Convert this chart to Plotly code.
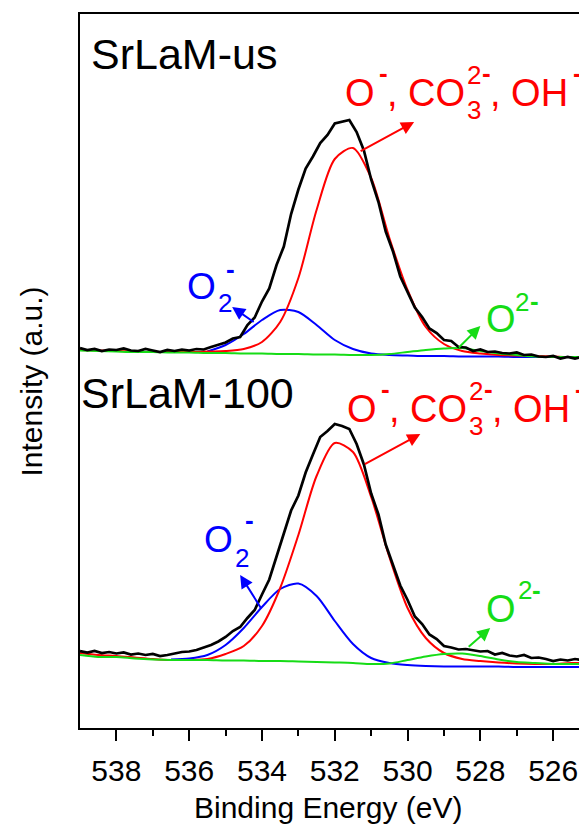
import plotly.graph_objects as go

# ---------------- data ----------------
energy_raw = [539.0, 538.8, 538.6, 538.4, 538.2, 538.0, 537.8, 537.6, 537.4, 537.2,
              537.0, 536.8, 536.6, 536.4, 536.2, 536.0, 535.8, 535.6, 535.4, 535.2,
              535.0, 534.8, 534.6, 534.4, 534.2, 534.0, 533.8, 533.6, 533.4, 533.2,
              533.0, 532.8, 532.6, 532.4, 532.2, 532.0, 531.8, 531.6, 531.4, 531.2,
              531.0, 530.8, 530.6, 530.4, 530.2, 530.0, 529.8, 529.6, 529.4, 529.2,
              529.0, 528.8, 528.6, 528.4, 528.2, 528.0, 527.8, 527.6, 527.4, 527.2,
              527.0, 526.8, 526.6, 526.4, 526.2, 526.0, 525.8, 525.6, 525.4, 525.2]

energy_fit = [539.0, 538.5, 538.0, 537.5, 537.0, 536.5, 536.0, 535.5, 535.0, 534.5,
              534.0, 533.5, 533.0, 532.5, 532.0, 531.5, 531.0, 530.5, 530.0, 529.5,
              529.0, 528.5, 528.0, 527.5, 527.0, 526.5, 526.0, 525.5, 525.0]

# SrLaM-us (upper spectrum)
us_raw = [380, 378, 379, 377, 378.5, 378, 379.5, 377.5, 377, 379,
          377.5, 376, 378, 377, 378.5, 377.5, 379, 378.5, 381, 383,
          385.5, 389.5, 391, 403, 410.5, 426.5, 439.5, 463, 481.5, 514,
          538.5, 559.5, 571.5, 585, 593, 604.5, 606, 608, 596, 577.5,
          548.5, 526, 496.5, 476.5, 451.5, 436, 420.5, 411, 399.5, 395,
          388, 387, 381, 380.5, 377, 378.5, 376, 376.5, 375, 374.5,
          375.5, 373, 373.5, 371.5, 371, 372, 369.5, 371, 369.5, 371]
us_red = [378, 377.5, 377, 376.5, 376, 376, 376, 376.5, 377, 379,
          386, 406, 450, 518, 569, 580, 550, 490, 438, 401,
          384, 377, 374.5, 373, 372.5, 372, 371.5, 371, 371]
us_blue = [None, None, None, None, None, None, None, 376.5, 383, 394,
           408, 418, 416, 403, 388, 379, 374.5, 373, 372.5, 372,
           372, 371.5, 371.5, 371.5, 371, 371, 371, 371, 371]
us_green = [377.5, 377, 376.5, 376, 376, 375.5, 375.5, 375, 375, 374.5,
            374.5, 374, 374, 373.5, 373.5, 373, 373, 374, 376, 378,
            379.5, 380, 377, 374.5, 373, 371.5, 371, 371, 371]

# SrLaM-100 (lower spectrum)
b_raw = [77, 75.5, 77, 75, 76, 74.5, 75.5, 73.5, 74.5, 73,
         74, 72, 73, 74.5, 76, 76.5, 78, 80.5, 83, 86.5,
         91, 97, 101, 110, 118, 133.5, 148.5, 171.5, 193.5, 217.5,
         232.5, 255.5, 273.5, 291, 297, 304, 302, 299, 284, 263.5,
         234.5, 213.5, 183.5, 163, 142.5, 128, 111.5, 104, 93.5, 89,
         82, 80.5, 78.5, 79, 77.5, 76.5, 77, 73.5, 75, 72.5,
         71.5, 73, 70, 70.5, 69, 67, 68.5, 67.5, 69, 68]
b_red = [75, 73, 72, 70.5, 69, 68, 68, 69, 74, 82,
         102, 140, 193, 252, 285, 276, 231, 171, 120, 90,
         75, 69, 67, 65.5, 64.5, 64, 64, 65, 65]
b_blue = [None, None, None, None, None, 68.5, 69.5, 73, 83, 100,
          121, 139, 144.5, 132, 107, 84, 70, 65, 63, 62,
          61.5, 61.5, 61.5, 61.5, 61, 61, 61, 61, 61]
b_green = [73, 71, 71, 69.5, 68.5, 68, 68, 68, 67.5, 67.5,
           67, 67, 66.5, 66, 65.5, 65, 64, 64.5, 68, 71.5,
           74, 74.5, 72, 68.5, 66, 65, 64, 64, 64]

x_ticks = [538, 536, 534, 532, 530, 528, 526]
x_minor = [537, 535, 533, 531, 529, 527]

RED = "#FF0000"
BLUE = "#0000FF"
GREEN = "#16DC16"
FONT = "Arial, Liberation Sans, sans-serif"

# ---------------- figure ----------------
W, H = 579, 824
ML, MR, MT, MB = 80, 0, 14, 96
PW, PH = W - ML - MR, H - MT - MB

fig = go.Figure()

for e, vals, col in [(energy_fit, us_blue, BLUE), (energy_fit, us_red, RED), (energy_fit, us_green, GREEN),
                     (energy_fit, b_blue, BLUE), (energy_fit, b_red, RED), (energy_fit, b_green, GREEN)]:
    fig.add_trace(go.Scatter(x=e, y=vals, mode="lines", line=dict(color=col, width=2, shape="spline", smoothing=0.8),
                             connectgaps=False, hoverinfo="skip"))
for vals in [us_raw, b_raw]:
    fig.add_trace(go.Scatter(x=energy_raw, y=vals, mode="lines", line=dict(color="black", width=2.7),
                             hoverinfo="skip"))


def add_text(s, px, py_base, size, color, anchor="left"):
    pad = 1
    yb = py_base + 0.212 * size + pad
    fig.add_annotation(text=s, xref="paper", yref="paper", x=(px - pad - ML) / PW, y=(H - MB - yb) / PH,
                       xanchor=anchor, yanchor="bottom", showarrow=False, borderpad=pad,
                       font=dict(size=size, color=color, family=FONT))


def arrow(x, y, ax, ay, color):
    fig.add_annotation(x=x, y=y, xref="x", yref="y", ax=ax, ay=ay, text="", showarrow=True,
                       arrowhead=2, arrowsize=1.3, arrowwidth=2, arrowcolor=color, standoff=0, startstandoff=0)


# sample names
add_text("SrLaM-us", 90, 70, 43, "black")
add_text("SrLaM-100", 80, 409, 43, "black")

# red labels
for dx, dy in [(0, 0), (2, 316)]:
    add_text("O", 344 + dx, 107 + dy, 38, RED)
    add_text("<b>-</b>", 378 + dx, 83.5 + dy, 26, RED)
    add_text(", CO", 386 + dx, 107 + dy, 38, RED)
    add_text("2", 466 + dx, 85 + dy, 26, RED)
    add_text("<b>-</b>", 481 + dx, 83 + dy, 26, RED)
    add_text("3", 466 + dx, 120 + dy, 26, RED)
    add_text(", OH", 489 + dx, 107 + dy, 38, RED)
    add_text("<b>-</b>", 572 + dx, 83.5 + dy, 26, RED)

# blue labels
add_text("O", 186, 300, 37, BLUE)
add_text("2", 217, 313, 26, BLUE)
add_text("<b>-</b>", 225, 279, 26, BLUE)
add_text("O", 203, 553, 37, BLUE)
add_text("2", 234, 568, 26, BLUE)
add_text("<b>-</b>", 244, 530.5, 26, BLUE)

# green labels
add_text("O", 485, 333, 38, GREEN)
add_text("2", 514, 312, 26, GREEN)
add_text("<b>-</b>", 529, 311, 26, GREEN)
add_text("O", 485, 623, 38, GREEN)
add_text("2", 517, 600, 26, GREEN)
add_text("<b>-</b>", 531, 600.5, 26, GREEN)

# arrows (head in data coords, tail offset in px)
arrow(529.82, 606, -55, 30, RED)
arrow(529.65, 294, -57, 31, RED)
arrow(534.82, 421, 23, 16, BLUE)
arrow(534.60, 153, 22, 35, BLUE)
arrow(528.0, 402, -23, 23, GREEN)
arrow(527.73, 100, -23, 20, GREEN)

# axis titles
add_text("Binding Energy (eV)", 329, 819, 30, "black", anchor="center")
fig.add_annotation(text="Intensity (a.u.)", xref="paper", yref="paper", x=(31 - ML) / PW, y=(H - MB - 381.5) / PH,
                   xanchor="center", yanchor="middle", textangle=-90, showarrow=False,
                   font=dict(size=30, color="black", family=FONT))

fig.update_layout(
    width=W, height=H, margin=dict(l=ML, r=MR, t=MT, b=MB),
    plot_bgcolor="white", paper_bgcolor="white", showlegend=False,
    font=dict(family=FONT, color="black"),
    xaxis=dict(range=[539, 525.29], tickmode="array", tickvals=x_ticks, ticktext=[str(v) for v in x_ticks],
               ticks="outside", ticklen=11, tickwidth=2, tickcolor="black", ticklabelstandoff=4,
               showline=True, linewidth=2, linecolor="black", mirror=True,
               showgrid=False, zeroline=False, tickfont=dict(size=30, color="black", family=FONT),
               minor=dict(tickvals=x_minor, ticks="outside", ticklen=6,
                          tickwidth=2, tickcolor="black", showgrid=False)),
    yaxis=dict(range=[0, 714], showline=True, linewidth=2, linecolor="black", showticklabels=False,
               ticks="", showgrid=False, zeroline=False),
)

fig.write_html("out.html")
